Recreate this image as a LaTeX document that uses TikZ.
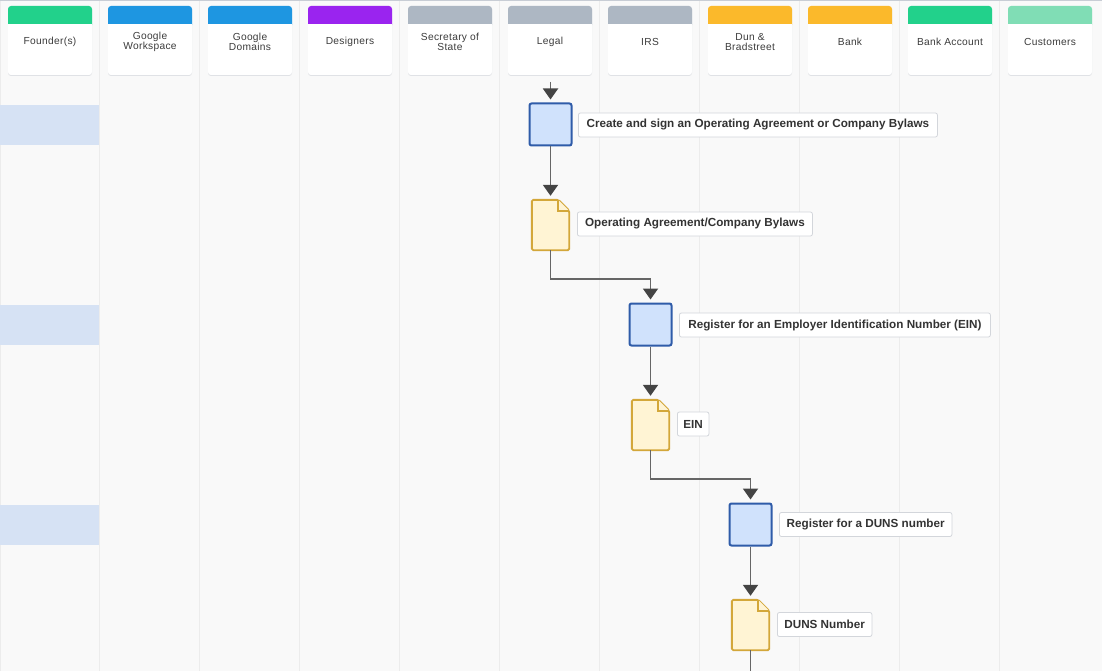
\documentclass[tikz,border=0pt]{standalone}
\usepackage{fontspec}
\setmainfont{Liberation Sans}
\newfontfamily\hdfont[LetterSpace=3]{Liberation Sans}
\usetikzlibrary{arrows.meta}
\definecolor{bg}{HTML}{F9F9F9}
\definecolor{lanesepc}{HTML}{ECECEC}
\definecolor{topborder}{HTML}{C8CDD5}
\definecolor{hl}{HTML}{D6E2F4}
\definecolor{cardshadow}{HTML}{E0E2E6}
\definecolor{cgreen}{HTML}{22D18B}
\definecolor{cblue}{HTML}{1E96E1}
\definecolor{cpurple}{HTML}{9A24EF}
\definecolor{cgray}{HTML}{ADB7C3}
\definecolor{corange}{HTML}{FBB92B}
\definecolor{clight}{HTML}{80DDB5}
\definecolor{hdtextc}{HTML}{3C3C3C}
\definecolor{procfill}{HTML}{D0E2FC}
\definecolor{procline}{HTML}{2F5CA9}
\definecolor{docfill}{HTML}{FFF4D4}
\definecolor{docdraw}{HTML}{D3A73A}
\definecolor{lblline}{HTML}{D3D6DB}
\definecolor{lbltext}{HTML}{333333}
\definecolor{flowline}{HTML}{666666}
\definecolor{flowtip}{HTML}{444444}
\newcommand\docshape[1]{%
  \filldraw[docline] (#1.south west) -- (#1.north west) -- ([xshift=-11pt]#1.north east) -- ([yshift=-11pt]#1.north east) -- (#1.south east) -- cycle;
  \draw[docline, rounded corners=0pt] ([xshift=-11pt]#1.north east) -- ([xshift=-11pt,yshift=-11pt]#1.north east) -- ([yshift=-11pt]#1.north east);}
\begin{document}
\begin{tikzpicture}[x=1pt,y=-1pt,
  lanesep/.style={draw=lanesepc, line width=1pt},
  card/.style={fill=white, rounded corners=3pt, minimum width=84pt, minimum height=69pt, inner sep=0pt},
  hdtext/.style={font=\hdfont\fontsize{10.2}{10}\selectfont, text=hdtextc, align=center, inner sep=0pt},
  proc/.style={draw=procline, fill=procfill, line width=2pt, rounded corners=2pt, minimum size=42pt, inner sep=0pt},
  docbox/.style={minimum width=37pt, minimum height=50pt, inner sep=0pt},
  docline/.style={draw=docdraw, fill=docfill, line width=1.9pt, rounded corners=1.5pt},
  lbl/.style={draw=lblline, fill=white, line width=0.8pt, rounded corners=2pt, minimum height=24pt, inner sep=0pt, anchor=west, font=\bfseries\fontsize{11.7}{13}\selectfont, text=lbltext},
  flow/.style={draw=flowline, line width=1.9pt, -{Triangle[width=15pt,length=11pt,color=flowtip]}, shorten >=3pt}
]
\useasboundingbox (0,0) rectangle (1102,671);
\fill[bg] (0,0) rectangle (1102,671);
\foreach \i in {1,...,10} \draw[lanesep] ({100*\i-0.5},0) -- ({100*\i-0.5},671);
\draw[lanesep] (0.5,0) -- (0.5,671);
\draw[topborder, line width=1.5pt] (0,0.75) -- (1102,0.75);
% row highlights
\fill[hl] (0,105) rectangle (99,145);
\fill[hl] (0,305) rectangle (99,345);
\fill[hl] (0,505) rectangle (99,545);
% lane headers
\foreach \i/\c/\t in {0/cgreen/{Founder(s)}, 1/cblue/{Google\\Workspace}, 2/cblue/{Google\\Domains}, 3/cpurple/{Designers}, 4/cgray/{Secretary of\\State}, 5/cgray/{Legal}, 6/cgray/{IRS}, 7/corange/{Dun \&\\Bradstreet}, 8/corange/{Bank}, 9/cgreen/{Bank Account}, 10/clight/{Customers}}{
  \pgfmathsetmacro\xa{100*\i+8}
  \pgfmathsetmacro\xb{100*\i+92}
  \pgfmathsetmacro\xm{100*\i+50}
  \fill[cardshadow, rounded corners=3pt] (\xa,7) rectangle (\xb,76);
  \node[card] (h\i) at (\xm,40.5) {};
  \fill[\c, rounded corners=3pt] (\xa,6) rectangle (\xb,28);
  \fill[white] (\xa,24) rectangle (\xb,30);
  \node[hdtext] (t\i) at (\xm,42) {\t};
}
% process boxes and documents
\node[proc] (b1) at (550.5,124.5) {};
\node[docbox] (d1) at (550.5,225) {};
\node[proc] (b2) at (650.5,324.5) {};
\node[docbox] (d2) at (650.5,425) {};
\node[proc] (b3) at (750.5,524.5) {};
\node[docbox] (d3) at (750.5,625) {};
\docshape{d1}
\docshape{d2}
\docshape{d3}
% labels
\node[lbl, minimum width=359pt] (l1) at (578,125) {Create and sign an Operating Agreement or Company Bylaws};
\node[lbl, minimum width=235pt] (l2) at (577,224) {Operating Agreement/Company Bylaws};
\node[lbl, minimum width=311pt] (l3) at (679,325) {Register for an Employer Identification Number (EIN)};
\node[lbl, minimum width=31.5pt] (l4) at (677,424) {EIN};
\node[lbl, minimum width=172.5pt] (l5) at (779,524.5) {Register for a DUNS number};
\node[lbl, minimum width=94.5pt] (l6) at (777,624.5) {DUNS Number};
% connectors
\coordinate (start) at (550.5,82);
\coordinate (end) at (750.5,671);
\draw[flow] (start) -- (b1.north);
\draw[flow, shorten >=4pt] (b1.south) -- (d1.north);
\draw[flow] (d1.south) -- ++(0,28.5) -| (b2.north);
\draw[flow, shorten >=4pt] (b2.south) -- (d2.north);
\draw[flow] (d2.south) -- ++(0,28.5) -| (b3.north);
\draw[flow, shorten >=4pt] (b3.south) -- (d3.north);
\draw[draw=flowline, line width=1.9pt] (d3.south) -- (end);
\end{tikzpicture}
\end{document}
